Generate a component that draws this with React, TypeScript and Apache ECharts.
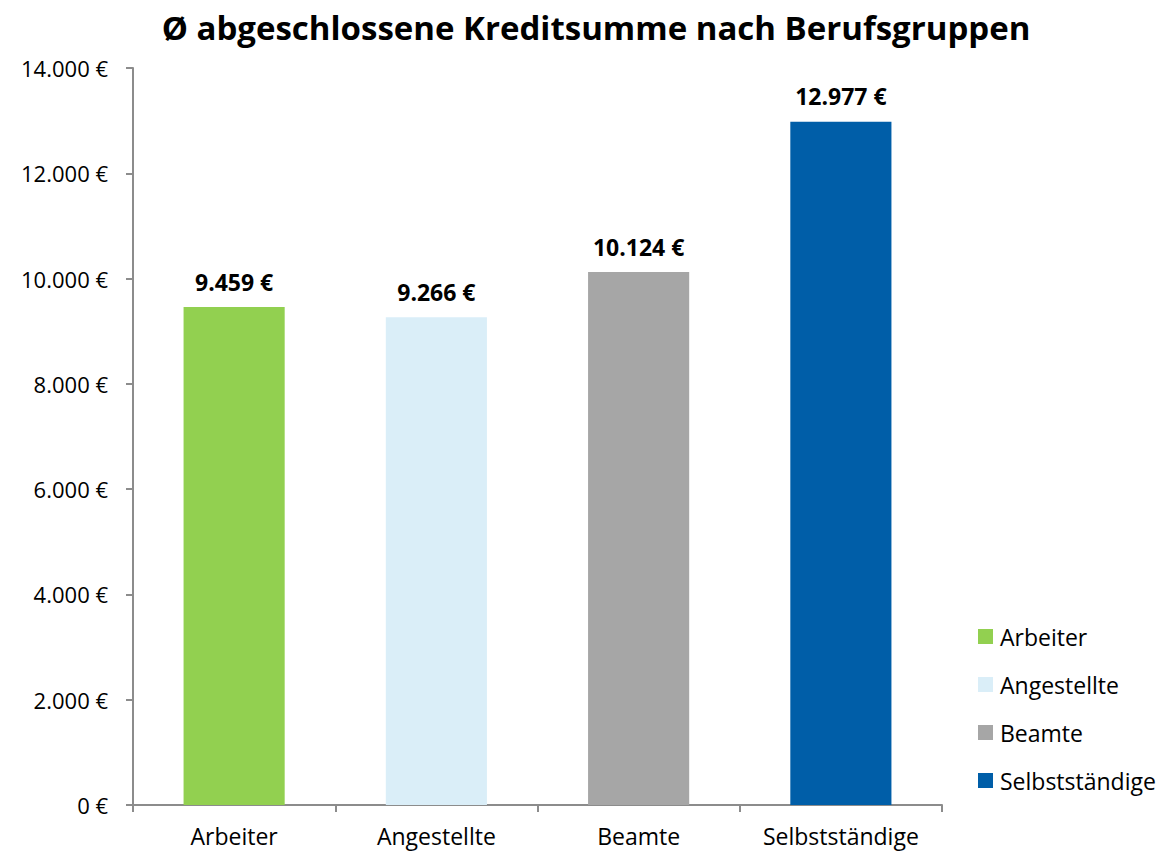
import React, { useEffect, useRef } from "react";
import * as echarts from "echarts";

const categories = ["Arbeiter", "Angestellte", "Beamte", "Selbstständige"];
const values = [9459, 9266, 10124, 12977];
const colors = ["#92D050", "#DAEEF8", "#A6A6A6", "#005EA8"];
const yTicks = [0, 2000, 4000, 6000, 8000, 10000, 12000, 14000];

const fmt = (v: number) => v.toLocaleString("de-DE") + " €";
const FONT = "'Open Sans', 'Noto Sans', sans-serif";

export default function App() {
  const ref = useRef<HTMLDivElement>(null);
  useEffect(() => {
    if (!ref.current) return;
    const chart = echarts.init(ref.current, null, { renderer: "svg" });
    const series = categories.map((name, i) => ({
      name,
      type: "bar",
      stack: "all",
      barWidth: "50%",
      data: values.map((v, j) => (j === i ? v : "-")),
      itemStyle: { color: colors[i] },
      label: {
        show: true,
        position: "top",
        distance: 14,
        formatter: (p: any) => fmt(p.value),
        fontFamily: FONT,
        fontWeight: "bold",
        fontSize: 23,
        color: "#000",
      },
    }));
    chart.setOption({
      animation: false,
      backgroundColor: "#fff",
      textStyle: { fontFamily: FONT },
      title: {
        text: "Ø abgeschlossene Kreditsumme nach Berufsgruppen",
        left: 591,
        textAlign: "center",
        top: 6,
        textStyle: { fontFamily: FONT, fontWeight: "bold", fontSize: 33, color: "#000" },
      },
      legend: {
        orient: "vertical",
        left: 978,
        top: 625,
        padding: 0,
        itemWidth: 15,
        itemHeight: 15,
        itemGap: 25,
        icon: "rect",
        data: categories,
        textStyle: { fontFamily: FONT, fontSize: 23, color: "#000", padding: [0, 0, 0, 2] },
      },
      grid: { left: 133, right: 219, top: 68, bottom: 47 },
      xAxis: {
        type: "category",
        data: categories,
        axisLine: { lineStyle: { color: "#8c8c8c", width: 2 } },
        axisTick: { show: true, length: 7, lineStyle: { color: "#8c8c8c", width: 2 } },
        axisLabel: { interval: 0, fontFamily: FONT, fontSize: 23, color: "#000", margin: 19 },
      },
      yAxis: {
        type: "value",
        min: yTicks[0],
        max: yTicks[yTicks.length - 1],
        interval: 2000,
        axisLine: { show: true, lineStyle: { color: "#8c8c8c", width: 2 } },
        axisTick: { show: true, length: 7, lineStyle: { color: "#8c8c8c", width: 2 } },
        splitLine: { show: false },
        axisLabel: { fontFamily: FONT, fontSize: 22, color: "#000", margin: 25, formatter: (v: number) => fmt(v) },
      },
      series,
    });
    return () => chart.dispose();
  }, []);
  return <div ref={ref} style={{ position: "fixed", left: 0, top: 0, width: 1161, height: 852 }} />;
}
